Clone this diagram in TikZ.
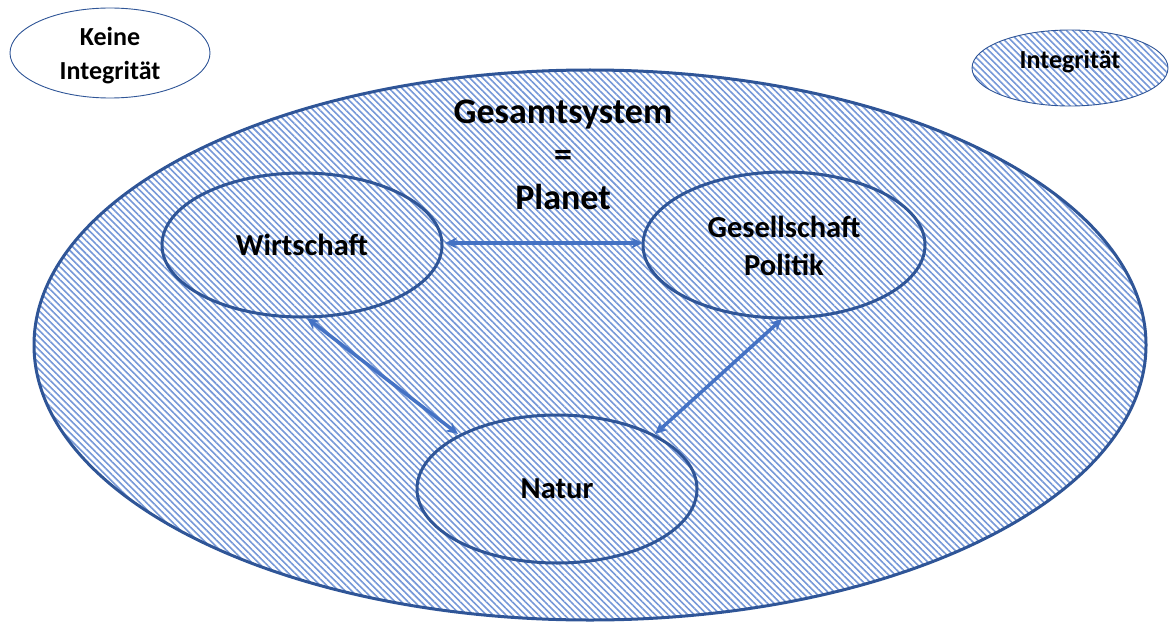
\documentclass[tikz,border=0pt]{standalone}
\usepackage{fontspec}
\setmainfont{Carlito}
\usetikzlibrary{patterns.meta,arrows.meta}
\definecolor{edgeblue}{RGB}{47,85,151}
\definecolor{arrowblue}{RGB}{68,114,196}
\definecolor{hatchblue}{RGB}{118,152,216}
\tikzset{
  hatched/.style={preaction={fill=white},pattern={Lines[angle=-45,distance=4.6pt,line width=1.6pt]},pattern color=hatchblue},
  lab/.style={font=\bfseries\fontsize{30.5}{38}\selectfont,align=center,text=black},
  leg/.style={font=\bfseries\fontsize{26}{34}\selectfont,align=center,text=black},
  conn/.style={draw=arrowblue,line width=3.5pt,{Stealth[length=12pt,width=11pt]}-{Stealth[length=12pt,width=11pt]}}
}
\begin{document}
\begin{tikzpicture}[x=1pt,y=-1pt]
\useasboundingbox (0,0) rectangle (1169,623);
% outer system
\path[draw=edgeblue,line width=3pt,hatched] (590,345) ellipse [x radius=556, y radius=275];
% legend
\path[draw=edgeblue,line width=0.9pt,fill=white] (110,53) ellipse [x radius=100, y radius=45];
\node[leg] (keine) at (110,56) {Keine\\Integrität};
\path[draw=edgeblue,line width=0.9pt,hatched] (1070,68) ellipse [x radius=98, y radius=38];
\node[leg] (integ) at (1070,62) {Integrität};
% title
\node[font=\bfseries\fontsize{36}{43}\selectfont,align=center] (title) at (563,155) {Gesamtsystem\\=\\Planet};
% subsystems
\path[draw=edgeblue,line width=3pt,hatched] (302,245) ellipse [x radius=140, y radius=72];
\node[lab] (wirt) at (302,245) {Wirtschaft};
\path[draw=edgeblue,line width=3pt,hatched] (784,245) ellipse [x radius=141, y radius=73];
\node[lab] (ges) at (784,246) {Gesellschaft\\Politik};
\path[draw=edgeblue,line width=3pt,hatched] (557,489) ellipse [x radius=140, y radius=74];
\node[lab] (natur) at (557,489) {Natur};
% connectors
\coordinate (wE) at (445,243);
\coordinate (gW) at (643,243);
\coordinate (wS) at (307,318);
\coordinate (nNW) at (458,434);
\coordinate (gS) at (782,319);
\coordinate (nNE) at (655,434);
\draw[conn] (wE) -- (gW);
\draw[conn] (wS) -- (nNW);
\draw[conn] (gS) -- (nNE);
\end{tikzpicture}
\end{document}
